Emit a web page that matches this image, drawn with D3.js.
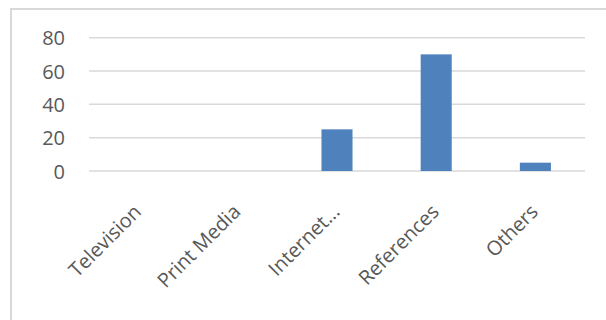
<!DOCTYPE html>
<html>
<head>
<meta charset="utf-8">
<script src="https://cdn.jsdelivr.net/npm/d3@7"></script>
<style>
  html, body { margin: 0; padding: 0; background: #fff; }
  svg { display: block; }
</style>
</head>
<body>
<svg id="chart" width="606" height="320"></svg>
<script>
const categories = ["Television", "Print Media", "Internet...", "References", "Others"];
const values = [0, 0, 25, 70, 5];
const yTicks = [0, 20, 40, 60, 80];

const svg = d3.select("#chart");
const W = 606, H = 320;
const font = "'Open Sans', 'Noto Sans', sans-serif";
const textColor = "#595959";

// chart border
svg.append("rect")
  .attr("x", 11).attr("y", 9)
  .attr("width", W + 10).attr("height", H + 10)
  .attr("fill", "#fff")
  .attr("stroke", "#d9d9d9").attr("stroke-width", 2);

const plot = { left: 89, right: 585, top: 37.7, bottom: 171 };

const x = d3.scaleBand().domain(categories).range([plot.left, plot.right]).paddingInner(0.687).paddingOuter(0.3435);
const y = d3.scaleLinear().domain([0, 80]).range([plot.bottom, plot.top]);

// gridlines
svg.append("g").selectAll("line").data(yTicks).join("line")
  .attr("x1", plot.left).attr("x2", plot.right)
  .attr("y1", d => y(d)).attr("y2", d => y(d))
  .attr("stroke", "#d9d9d9").attr("stroke-width", 1.5);

// y axis labels
const yAxis = d3.axisLeft(y).tickValues(yTicks).tickSize(0).tickPadding(0);
const gy = svg.append("g").attr("transform", `translate(65,0)`).call(yAxis);
gy.select(".domain").remove();
gy.selectAll("text")
  .attr("font-family", font).attr("font-size", 20).attr("fill", textColor)
  .attr("dy", "0.36em");

// bars
svg.append("g").selectAll("rect").data(categories.map((c, i) => ({ c, v: values[i] }))).join("rect")
  .attr("x", d => x(d.c))
  .attr("width", x.bandwidth())
  .attr("y", d => y(d.v))
  .attr("height", d => y(0) - y(d.v))
  .attr("fill", "#4f81bd");

// x axis labels (rotated)
const xAxis = d3.axisBottom(x).tickSize(0).tickPadding(0);
const gx = svg.append("g").attr("transform", `translate(0,${plot.bottom})`).call(xAxis);
gx.select(".domain").remove();
gx.selectAll("text")
  .attr("font-family", font).attr("font-size", 20).attr("fill", textColor)
  .attr("text-anchor", "end")
  .attr("y", 0).attr("dy", "0.35em")
  .attr("transform", "translate(-1,37) rotate(-45)");
</script>
</body>
</html>
